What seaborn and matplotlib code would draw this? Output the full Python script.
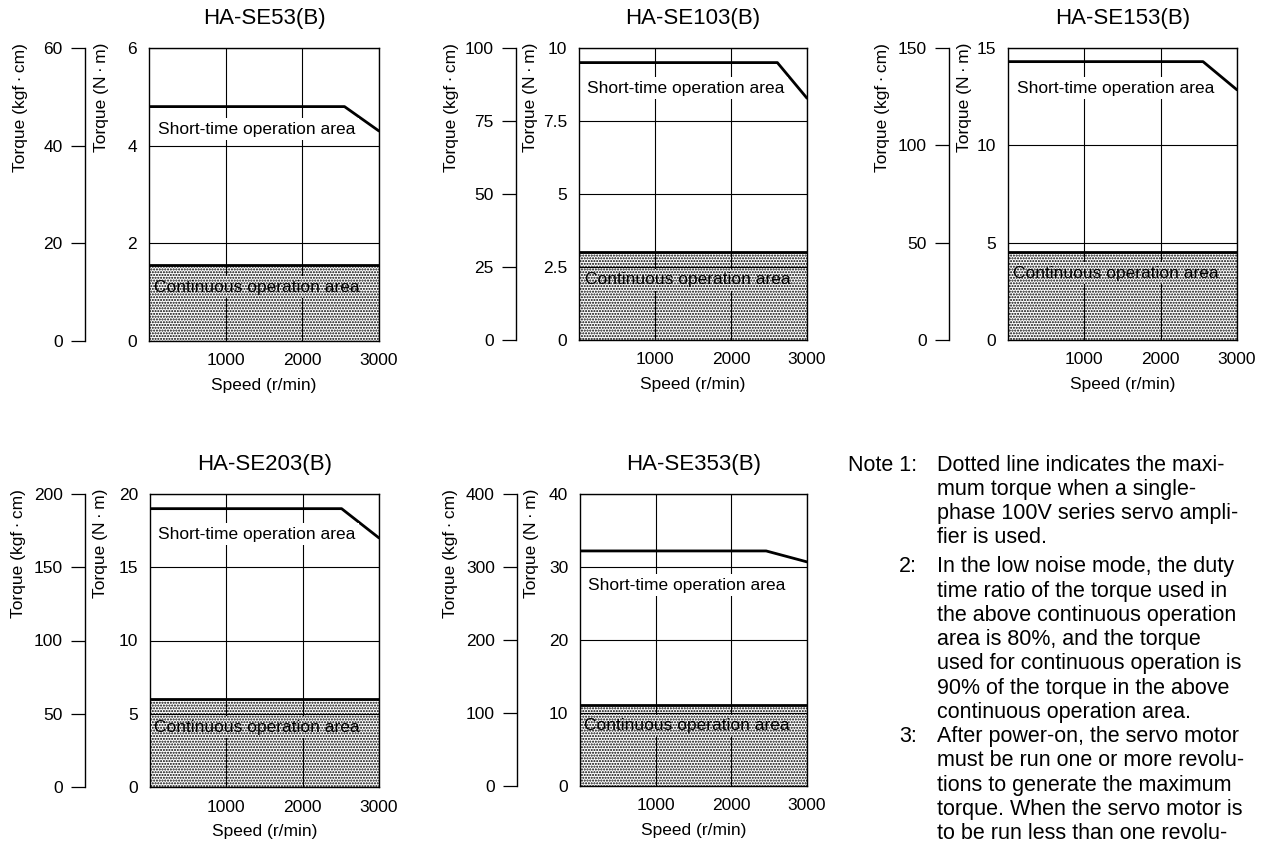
import matplotlib
matplotlib.use("Agg")
import matplotlib.pyplot as plt
import numpy as np
import pandas as pd
import seaborn as sns

# ---------------- data ----------------
models = ["HA-SE53(B)", "HA-SE103(B)", "HA-SE153(B)", "HA-SE203(B)", "HA-SE353(B)"]
peak_torque = [4.8, 9.5, 14.3, 19.0, 32.2]        # N·m, short-time max (flat part)
knee_speed = [2550, 2610, 2555, 2510, 2460]       # r/min where max torque begins to drop
end_torque = [4.3, 8.28, 12.85, 17.0, 30.7]       # N·m at 3000 r/min
cont_torque = [1.55, 3.0, 4.5, 6.0, 11.1]         # N·m, continuous operation
max_speed = 3000
speed_ticks = [1000, 2000, 3000]
nm_max = [6, 10, 15, 20, 40]
nm_ticks = [[0, 2, 4, 6], [0, 2.5, 5, 7.5, 10], [0, 5, 10, 15],
            [0, 5, 10, 15, 20], [0, 10, 20, 30, 40]]
kgf_ticks = [[0, 20, 40, 60], [0, 25, 50, 75, 100], [0, 50, 100, 150],
             [0, 50, 100, 150, 200], [0, 100, 200, 300, 400]]
kgf_per_nm = 10

note_labels = ["Note 1:", "2:", "3:"]
note_lines = [
    ["Dotted line indicates the maxi-",
     "mum torque when a single-",
     "phase 100V series servo ampli-",
     "fier is used."],
    ["In the low noise mode, the duty",
     "time ratio of the torque used in",
     "the above continuous operation",
     "area is 80%, and the torque",
     "used for continuous operation is",
     "90% of the torque in the above",
     "continuous operation area."],
    ["After power-on, the servo motor",
     "must be run one or more revolu-",
     "tions to generate the maximum",
     "torque. When the servo motor is",
     "to be run less than one revolu-"],
]

# ---------------- layout (pixels) ----------------
W, H = 1270, 852
boxes = [(149, 48, 379, 341), (579, 48, 807, 340), (1008, 48, 1237, 340),
         (150, 494, 379, 787), (580, 494, 807, 786)]
kgf_spine_px = [85, 516, 949, 85, 517]
kgf_label_px = [20.7, 451.7, 882.3, 18.3, 450.7]
nm_label_px = [101.7, 531, 964, 100, 531.3]
short_pos = [(0.038, 0.722), (0.036, 0.862), (0.038, 0.862), (0.035, 0.8625), (0.035, 0.6875)]
cont_pos = [(0.022, 0.183), (0.026, 0.206), (0.023, 0.229), (0.019, 0.2045), (0.018, 0.207)]
note_start_y = [465, 566.7, 736.7]
note_dy = 24.3

sns.set_style("white")
plt.rcParams["font.family"] = ["Liberation Sans", "DejaVu Sans"]
plt.rcParams["hatch.linewidth"] = 1.0
plt.rcParams["text.color"] = "black"
plt.rcParams["axes.labelcolor"] = "black"
plt.rcParams["xtick.color"] = "black"
plt.rcParams["ytick.color"] = "black"

fig = plt.figure(figsize=(W / 100, H / 100), dpi=100)

STIPPLE = "......"
DOTCOL = "#000000"
THIN = "\u2009"


def fmt(v):
    return f"{v:g}"


for i, model in enumerate(models):
    l, t, r, b = boxes[i]
    ax = fig.add_axes([l / W, 1 - b / H, (r - l) / W, (b - t) / H])

    df_peak = pd.DataFrame({"speed": [0, knee_speed[i], max_speed],
                            "torque": [peak_torque[i], peak_torque[i], end_torque[i]]})
    df_cont = pd.DataFrame({"speed": [0, max_speed],
                            "torque": [cont_torque[i], cont_torque[i]]})

    ax.fill_between(df_cont["speed"], 0, df_cont["torque"], facecolor="white",
                    edgecolor=DOTCOL, hatch=STIPPLE, linewidth=0, zorder=0.5)
    sns.lineplot(data=df_peak, x="speed", y="torque", ax=ax, color="black",
                 linewidth=2.0, zorder=2.6)
    sns.lineplot(data=df_cont, x="speed", y="torque", ax=ax, color="black",
                 linewidth=2.0, zorder=2.6)

    ax.set_xlim(0, max_speed)
    ax.set_ylim(0, nm_max[i])
    ax.set_xticks(speed_ticks)
    ax.set_xticklabels([str(s) for s in speed_ticks])
    ax.set_yticks(nm_ticks[i])
    ax.set_yticklabels([fmt(v) for v in nm_ticks[i]])
    ax.set_axisbelow(False)
    ax.grid(True, color="black", linewidth=0.8)
    ax.tick_params(axis="both", length=0, labelsize=12.5, colors="black")
    ax.tick_params(axis="y", pad=8.5)
    ax.tick_params(axis="x", pad=9.0)
    for sp in ax.spines.values():
        sp.set_visible(True)
        sp.set_color("black")
        sp.set_linewidth(1.0)
    ax.set_xlabel("Speed (r/min)", fontsize=12.5, labelpad=7, color="black")
    ax.set_ylabel("")
    ax.set_title(model, fontsize=16, pad=17, color="black")

    loc = (kgf_spine_px[i] - l) / (r - l)
    sec = ax.secondary_yaxis(loc, functions=(lambda v: v * kgf_per_nm,
                                             lambda v: v / kgf_per_nm))
    sec.set_yticks(kgf_ticks[i])
    sec.set_yticklabels([fmt(v) for v in kgf_ticks[i]])
    sec.tick_params(direction="out", length=10, width=0.9, pad=6,
                    labelsize=12.5, colors="black")
    for sp in sec.spines.values():
        sp.set_color("black")
        sp.set_linewidth(1.0)

    fig.text(kgf_label_px[i] / W, 1 - (t - 5) / H, f"Torque (kgf{THIN}·{THIN}cm)",
             rotation=90, rotation_mode="anchor", ha="right", va="center", fontsize=12.5)
    fig.text(nm_label_px[i] / W, 1 - (t - 5) / H, f"Torque (N{THIN}·{THIN}m)",
             rotation=90, rotation_mode="anchor", ha="right", va="center", fontsize=12.5)

    ax.text(short_pos[i][0], short_pos[i][1], "Short-time operation area",
            transform=ax.transAxes, ha="left", va="center", fontsize=12.5, zorder=4,
            bbox=dict(facecolor="white", edgecolor="none", pad=2.5))
    ax.text(cont_pos[i][0], cont_pos[i][1], "Continuous operation area",
            transform=ax.transAxes, ha="left", va="center", fontsize=12.5, zorder=4,
            bbox=dict(facecolor="white", edgecolor=DOTCOL, linewidth=0,
                      hatch=STIPPLE, pad=2.5))

# notes
for k, (lab, lines) in enumerate(zip(note_labels, note_lines)):
    y0 = note_start_y[k]
    fig.text(917 / W, 1 - y0 / H, lab, ha="right", va="center", fontsize=15.5)
    for j, line in enumerate(lines):
        fig.text(937 / W, 1 - (y0 + j * note_dy) / H, line, ha="left",
                 va="center", fontsize=15.5)

fig.savefig("out.png", dpi=100)
